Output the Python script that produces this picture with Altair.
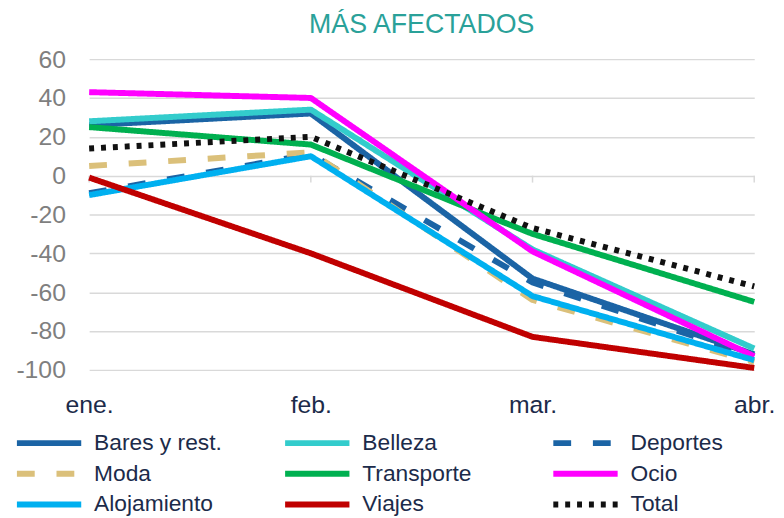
import altair as alt
import pandas as pd

meses = ["ene.", "feb.", "mar.", "abr."]
series = ["Bares y rest.", "Belleza", "Deportes", "Moda", "Transporte",
          "Ocio", "Alojamiento", "Viajes", "Total"]

bares = [26, 32, -53, -92]
belleza = [28, 34, -38, -89]
deportes = [-9, 11, -55, -93]
moda = [5, 12, -64, -96]
transporte = [25, 16, -30, -65]
ocio = [43, 40, -39, -93]
alojamiento = [-10, 10, -62, -95]
viajes = [-1, -40, -83, -99]
total = [14, 20, -27, -57]

colores = ["#1B64A5", "#33CCCC", "#1B64A5", "#DBC07A", "#00B050",
           "#FF00FF", "#00B0F0", "#C00000", "#111111"]
dashes = [[1, 0], [1, 0], [18, 22], [18, 22], [1, 0],
          [1, 0], [1, 0], [1, 0], [5, 7]]
y_ticks = [-100, -80, -60, -40, -20, 0, 20, 40, 60]

valores = [bares, belleza, deportes, moda, transporte, ocio, alojamiento, viajes, total]
rows = []
for s, vals in zip(series, valores):
    for m, v in zip(meses, vals):
        rows.append({"serie": s, "mes": m, "valor": v})
df = pd.DataFrame(rows)

FONT = "Liberation Sans"
NAVY = "#1C2B4A"

x_axis = alt.Axis(title=None, labelAngle=0, domain=False, ticks=False, grid=False,
                  labelFontSize=25, labelColor=NAVY, labelFont=FONT, labelPadding=23,
                  labelOverlap=False)
y_axis = alt.Axis(values=y_ticks, title=None, domain=False, ticks=False,
                  grid=True, gridColor="#D9D9D9", gridWidth=1.5,
                  labelFontSize=25, labelColor="#7F7F7F", labelFont=FONT,
                  labelPadding=24, labelOverlap=False,
                  labelExpr="'' + datum.value")
x_scale = alt.Scale(type="point", padding=0)
y_scale = alt.Scale(domain=[-100, 60], nice=False, zero=False)

x = alt.X("mes:N", sort=meses, scale=x_scale, axis=x_axis)
y = alt.Y("valor:Q", scale=y_scale, axis=y_axis)

leg = alt.Legend(title=None, orient="none", legendX=-76, legendY=376, columns=3,
                 direction="horizontal", clipHeight=24,
                 symbolType="stroke", symbolSize=4225, symbolStrokeWidth=6,
                 labelFontSize=23, labelColor=NAVY, labelFont=FONT, labelOffset=10,
                 columnPadding=60, rowPadding=7, gridAlign="all", padding=0, labelLimit=400)
color = alt.Color("serie:N", scale=alt.Scale(domain=series, range=colores), legend=leg)
dash = alt.StrokeDash("serie:N", scale=alt.Scale(domain=series, range=dashes), legend=leg)

# small tick marks hanging below the zero line at each month
ticks = (
    alt.Chart(df)
    .transform_filter(alt.datum.serie == series[0])
    .transform_calculate(cero="0")
    .mark_tick(orient="vertical", color="#D9D9D9", size=7, thickness=1.5,
               yOffset=3.5, opacity=1)
    .encode(x=x, y=alt.Y("cero:Q", scale=y_scale, axis=y_axis))
)

layers = [ticks]
for s in series:
    layers.append(
        alt.Chart(df).transform_filter(alt.datum.serie == s)
        .mark_line(strokeWidth=6, strokeCap="butt", strokeJoin="round")
        .encode(x=x, y=y, color=color, strokeDash=dash)
    )

chart = alt.layer(*layers).properties(
    width=672, height=314,
    autosize=alt.AutoSizeParams(type="none"),
    padding={"left": 82, "top": 49, "right": 22, "bottom": 147},
    title=alt.Title("MÁS AFECTADOS", fontSize=27, font=FONT, fontWeight="normal",
                    color="#2AA199", anchor="middle", offset=8),
).configure_view(stroke=None).configure_axis(labelOverlap=False)

chart.save("out.html", embed_options={"renderer": "svg", "actions": False})
